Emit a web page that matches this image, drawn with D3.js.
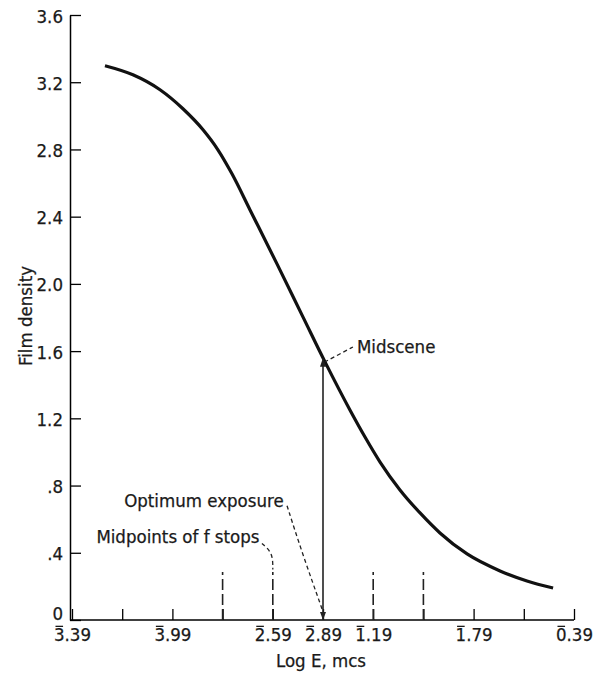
<!DOCTYPE html>
<html>
<head>
<meta charset="utf-8">
<script src="https://cdn.jsdelivr.net/npm/d3@7"></script>
<style>
  body { margin: 0; background: #fff; }
  text { font-family: "DejaVu Sans Condensed", "Liberation Sans Narrow", "DejaVu Sans", sans-serif; fill: #1a1a1a; stroke: #1a1a1a; stroke-width: 0.25px; }
</style>
</head>
<body>
<div id="chart"></div>
<script>
// log E (bar notation characteristic converted to plain numbers) vs film density
var logE = [-2.413, -2.246, -2.084, -1.947, -1.827, -1.738, -1.654, -1.546, -1.385, -1.230, -1.098, -0.949, -0.859, -0.769, -0.650, -0.530, -0.411, -0.249, -0.052, 0.109, 0.265]
var density = [3.298, 3.244, 3.155, 3.042, 2.917, 2.798, 2.655, 2.440, 2.119, 1.804, 1.536, 1.250, 1.089, 0.940, 0.774, 0.637, 0.518, 0.393, 0.292, 0.232, 0.190]

var xTicks = [-2.61, -2.31, -2.01, -1.71, -1.41, -1.11, -0.81, -0.51, -0.21, 0.09, 0.39]
var xTickLabels = ["3.39", "", "3.99", "", "2.59", "2.89", "1.19", "", "1.79", "", "0.39"]
var yTicks = [0, 0.4, 0.8, 1.2, 1.6, 2.0, 2.4, 2.8, 3.2, 3.6]
var yTickLabels = ["0", ".4", ".8", "1.2", "1.6", "2.0", "2.4", "2.8", "3.2", "3.6"]

var fStops = [-1.71, -1.41, -0.81, -0.51]
var fStopTop = 0.285
var optimumLogE = -1.11
var midsceneDensity = 1.56

var width = 599, height = 673
var fs = 18.5

var svg = d3.select("#chart").append("svg")
	.attr("width", width)
	.attr("height", height)

var x = d3.scaleLinear().domain([-2.61, 0.39]).range([72, 574])
var y = d3.scaleLinear().domain([0, 3.6]).range([620, 15])

// x axis
var gX = svg.append("g")
	.attr("transform", `translate(0,${y(0)})`)
	.call(d3.axisBottom(x)
		.tickValues(xTicks)
		.tickSizeInner(-11)
		.tickSizeOuter(0)
		.tickPadding(8)
		.tickFormat((d, i) => xTickLabels[i]))
gX.select(".domain").attr("d", `M${70},0H${x(0.39)}`).attr("stroke-width", 1.5)
gX.selectAll(".tick line").attr("stroke-width", 1.3)
gX.selectAll(".tick text").style("font-size", fs + "px").attr("fill", "#1a1a1a")
// bar over the characteristic digit
gX.selectAll(".tick").each(function(d, i) {
	if (xTickLabels[i] == "") return
	var t = d3.select(this).select("text").node()
	var ext = t.getExtentOfChar(0)
	d3.select(this).append("line")
		.attr("x1", ext.x + 1.5).attr("x2", ext.x + ext.width - 1.5)
		.attr("y1", ext.y + fs * 0.12).attr("y2", ext.y + fs * 0.12)
		.attr("stroke", "#1a1a1a").attr("stroke-width", 1.3)
})

// y axis
var gY = svg.append("g")
	.attr("transform", `translate(${70},0)`)
	.call(d3.axisLeft(y)
		.tickValues(yTicks)
		.tickSizeInner(-11)
		.tickSizeOuter(0)
		.tickPadding(7)
		.tickFormat((d, i) => yTickLabels[i]))
gY.select(".domain").attr("stroke-width", 1.5)
gY.selectAll(".tick line").attr("stroke-width", 1.3)
gY.selectAll(".tick text").style("font-size", fs + "px").attr("fill", "#1a1a1a")
	.attr("dy", d => d == 0 ? "-0.05em" : "0.38em")

// axis names
svg.append("text")
	.attr("x", 321).attr("y", 667)
	.attr("text-anchor", "middle")
	.style("font-size", fs + "px")
	.text("Log E, mcs")
svg.append("text")
	.attr("transform", `translate(${32},${316}) rotate(-90)`)
	.attr("text-anchor", "middle")
	.style("font-size", fs + "px")
	.text("Film density")

// characteristic curve
var curveData = logE.map((v, i) => ({ e: v, d: density[i] }))
var line = d3.line()
	.curve(d3.curveMonotoneX)
	.x(d => x(d.e))
	.y(d => y(d.d))
svg.append("path")
	.datum(curveData)
	.attr("d", line)
	.attr("fill", "none")
	.attr("stroke", "#111")
	.attr("stroke-width", 3.2)

// midpoints of f stops
svg.append("g").selectAll("line")
	.data(fStops)
	.enter()
	.append("line")
	.attr("x1", d => x(d)).attr("x2", d => x(d))
	.attr("y1", y(0)).attr("y2", y(fStopTop))
	.attr("stroke", "#222")
	.attr("stroke-width", 1.6)
	.attr("stroke-dasharray", "11,4")

// optimum exposure arrow up to midscene
var ax = x(optimumLogE)
svg.append("line")
	.attr("x1", ax).attr("x2", ax)
	.attr("y1", y(0)).attr("y2", y(midsceneDensity) + 6)
	.attr("stroke", "#222").attr("stroke-width", 1.6)
svg.append("path")
	.attr("d", `M${ax},${y(midsceneDensity)}l-3,9h6z`)
	.attr("fill", "#222")

// leaders
var leader = d3.line().curve(d3.curveBasis).x(d => x(d[0])).y(d => y(d[1]))
svg.append("path")
	.attr("d", leader([[-1.10, 1.535], [-1.015, 1.58], [-0.93, 1.625]]))
	.attr("fill", "none").attr("stroke", "#222").attr("stroke-width", 1.3)
	.attr("stroke-dasharray", "4,3")
svg.append("text")
	.attr("x", x(-0.907)).attr("y", y(1.589))
	.style("font-size", fs + "px")
	.text("Midscene")

svg.append("path")
	.attr("d", leader([[-1.325, 0.68], [-1.235, 0.40], [-1.11, 0.05]]))
	.attr("fill", "none").attr("stroke", "#222").attr("stroke-width", 1.3)
	.attr("stroke-dasharray", "4,3")
svg.append("path")
	.attr("d", `M${ax},${y(0)}l-3,-8h6z`)
	.attr("fill", "#222")
svg.append("text")
	.attr("x", x(-1.345)).attr("y", y(0.673))
	.attr("text-anchor", "end")
	.style("font-size", fs + "px")
	.text("Optimum exposure")

svg.append("path")
	.attr("d", leader([[-1.475, 0.455], [-1.41, 0.40], [-1.41, 0.30]]))
	.attr("fill", "none").attr("stroke", "#222").attr("stroke-width", 1.3)
	.attr("stroke-dasharray", "4,3")
svg.append("text")
	.attr("x", x(-1.49)).attr("y", y(0.458))
	.attr("text-anchor", "end")
	.style("font-size", fs + "px")
	.text("Midpoints of f stops")
</script>
</body>
</html>
